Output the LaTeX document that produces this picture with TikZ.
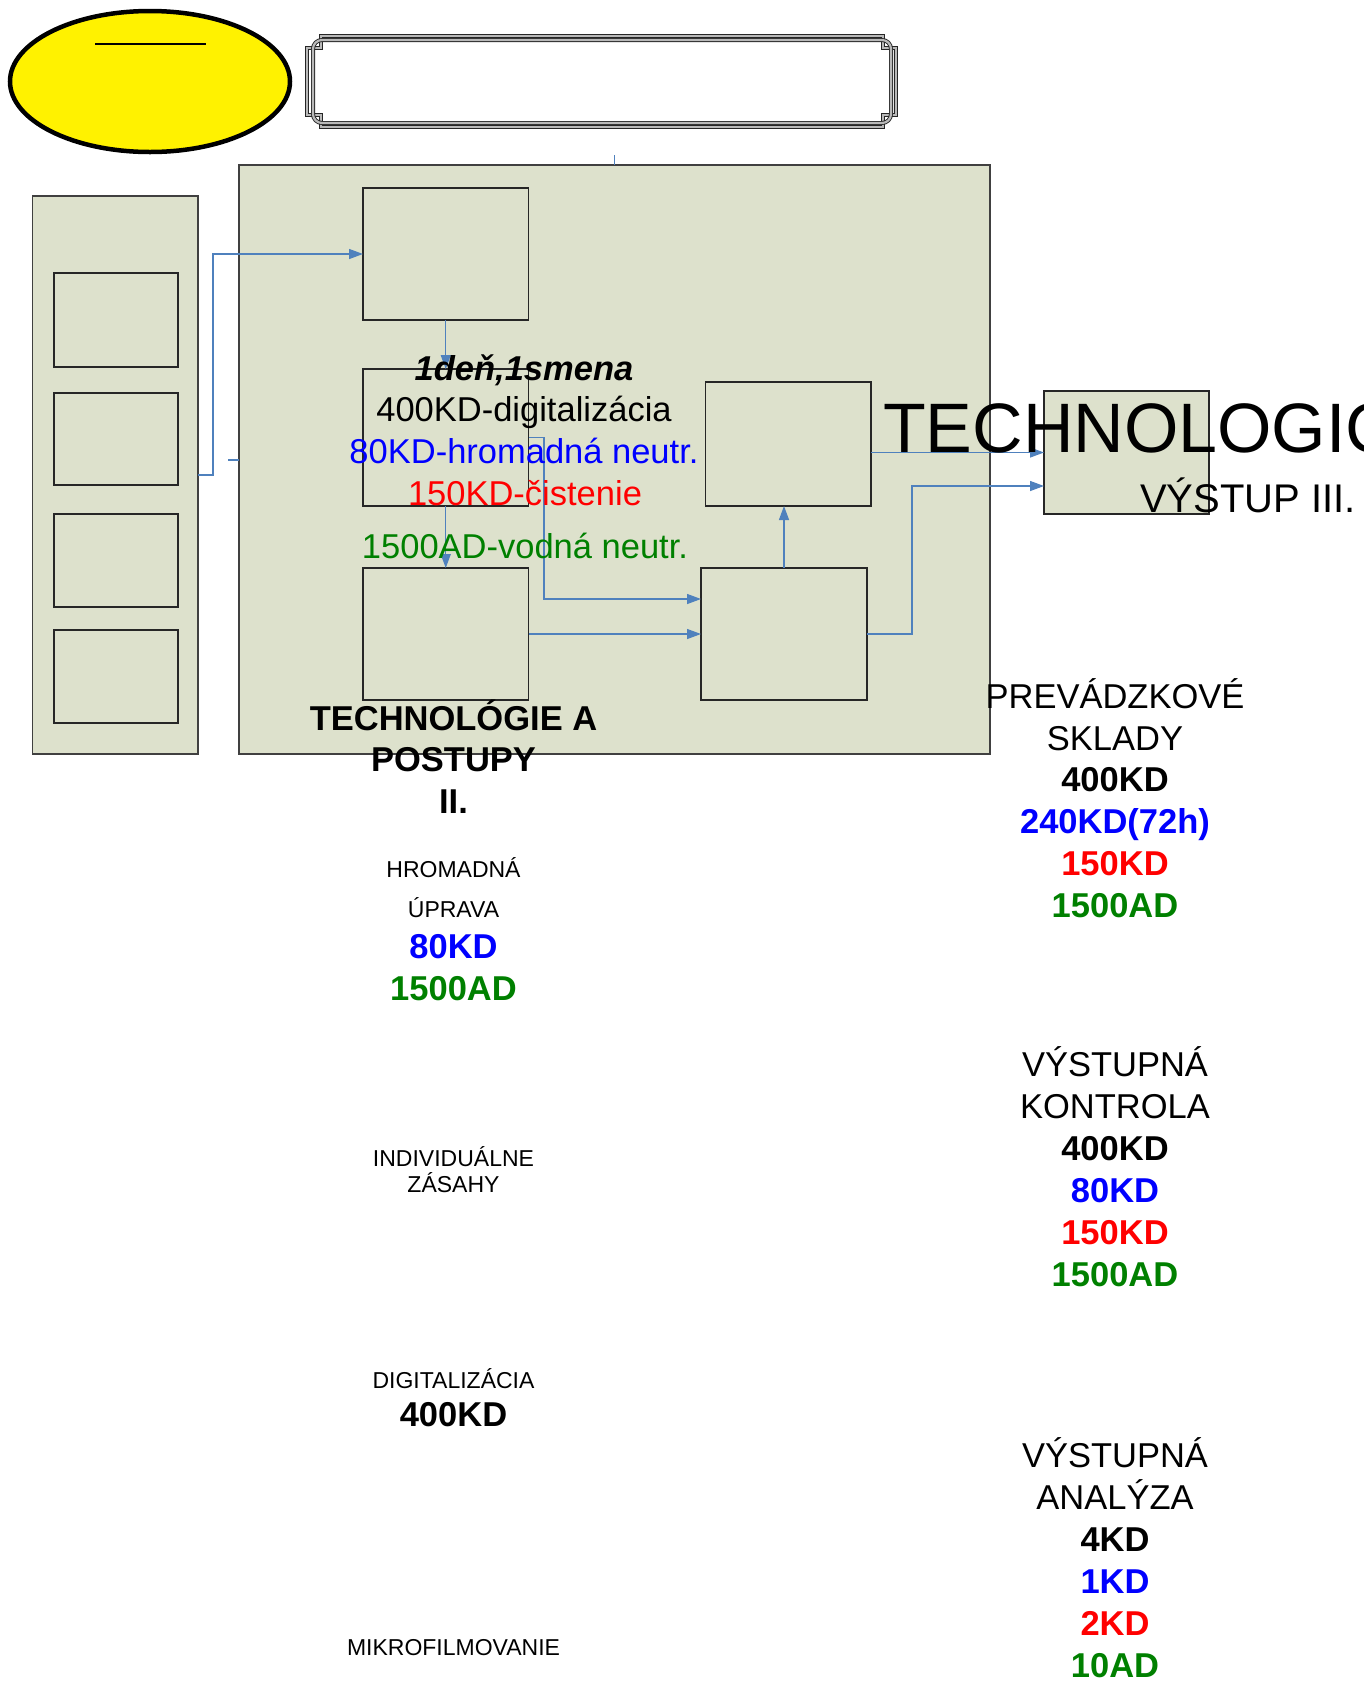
\documentclass[tikz,border=0pt]{standalone}
\usepackage{fontspec}
\setmainfont{Liberation Sans}
\usetikzlibrary{shapes.geometric,arrows.meta}
\definecolor{boxfill}{RGB}{221,225,204}
\definecolor{boxline}{RGB}{64,64,64}
\definecolor{conncol}{RGB}{79,129,189}
\definecolor{tblue}{RGB}{0,0,255}
\definecolor{tred}{RGB}{255,0,0}
\definecolor{tgreen}{RGB}{0,128,0}
\newcommand\fsz[1]{\fontsize{#1}{#1}\selectfont}
\tikzset{
  panel/.style={draw=boxline, fill=boxfill, line width=1.3pt, inner sep=0pt, outer sep=0pt},
  stepbox/.style={draw=black!85, fill=boxfill, line width=1.2pt, inner sep=0pt, outer sep=0pt},
  conn/.style={draw=conncol, line width=1.3pt},
  arr/.style={conn, -{Triangle[length=14pt,width=10pt]}},
  txt/.style={anchor=base, inner sep=0pt, outer sep=0pt},
  framel/.style={draw=black!85, line width=0.9pt, double=gray!55, double distance=2.2pt},
}
\begin{document}
\begin{tikzpicture}[x=1pt,y=-1pt]
\useasboundingbox (0,0) rectangle (1364,1682);

% top decorations
\node[ellipse, draw=black, fill=yellow, line width=4.5pt, minimum width=280pt, minimum height=141pt, inner sep=0pt] (oval) at (150,81.5) {};
\draw[line width=2pt] (95,44) -- (206,44);
\draw[framel] (321,36) -- (883,36) -- (883,48) -- (896,48) -- (896,115) -- (883,115) -- (883,127) -- (321,127) -- (321,115) -- (307,115) -- (307,48) -- (321,48) -- cycle;
\draw[framel, rounded corners=9pt] (313,40) rectangle (891,123);

% panels
\node[panel, minimum width=751pt, minimum height=589pt] (big) at (614.5,459.5) {};
\node[panel, minimum width=165.5pt, minimum height=558pt] (left) at (115.25,475) {};
\node[stepbox, minimum width=124pt, minimum height=94pt] (s1) at (116,320) {};
\node[stepbox, minimum width=124pt, minimum height=92pt] (s2) at (116,439) {};
\node[stepbox, minimum width=124pt, minimum height=93pt] (s3) at (116,560.5) {};
\node[stepbox, minimum width=124pt, minimum height=93pt] (s4) at (116,676.5) {};

\node[stepbox, minimum width=165.5pt, minimum height=132pt] (A) at (445.75,254) {};
\node[stepbox, minimum width=165.5pt, minimum height=137pt] (B) at (445.75,437.5) {};
\node[stepbox, minimum width=165.5pt, minimum height=132pt] (C) at (445.75,634) {};
\node[stepbox, minimum width=166pt, minimum height=132pt] (D) at (784,634) {};
\node[stepbox, minimum width=165.5pt, minimum height=124pt] (E) at (788.25,444) {};
\node[stepbox, minimum width=165pt, minimum height=123pt] (F) at (1126.5,452.5) {};

% connectors
\draw[conn] (big.north) -- ++(0,-10.5);
\coordinate (stub) at (228,460);
\draw[conn] (stub) -- (stub -| big.west);
\draw[arr] (left.east) -- ++(15,0) |- (A.west);
\draw[arr] (A.south) -- (B.north);
\draw[arr] (B.south) -- (C.north);
\draw[arr] (B.east) -- ++(15.5,0) |- ([yshift=35pt]D.west);
\draw[arr] (C.east) -- (D.west);
\draw[arr] (D.north) -- (D.north |- E.south);
\draw[arr] (E.east |- F.west) -- (F.west);
\draw[arr] (D.east) -- ++(45,0) |- ([yshift=-33.5pt]F.west);

% texts inside big panel
\node[txt] (t1) at (524,380) {\fsz{34.5}\bfseries\itshape 1deň,1smena};
\node[txt] (t2) at (524,421.7) {\fsz{34.5}400KD-digitalizácia};
\node[txt, text=tblue] (t3) at (524,463) {\fsz{34.5}80KD-hromadná neutr.};
\node[txt, text=tred] (t4) at (525,505) {\fsz{34.5}150KD-čistenie};
\node[txt, text=tgreen] (t5) at (525,558) {\fsz{34.5}1500AD-vodná neutr.};

\node[txt, anchor=base west] (tv1) at (883,452) {\fsz{70}TECHNOLOGICKÝ};
\node[txt, anchor=base west] (tv2) at (1140,512) {\fsz{40}VÝSTUP III.};

% left column
\node[txt] (l1) at (453.5,730) {\fsz{34.5}\bfseries TECHNOLÓGIE A};
\node[txt] (l2) at (453.5,771) {\fsz{34.5}\bfseries POSTUPY};
\node[txt] (l3) at (453.5,813) {\fsz{34.5}\bfseries II.};
\node[txt] (h1) at (453.5,877) {\fsz{23}HROMADNÁ};
\node[txt] (h2) at (453.5,917) {\fsz{23}ÚPRAVA};
\node[txt, text=tblue] (h3) at (453.5,958) {\fsz{34.5}\bfseries 80KD};
\node[txt, text=tgreen] (h4) at (453.5,1000) {\fsz{34.5}\bfseries 1500AD};
\node[txt] (i1) at (453.5,1166) {\fsz{23}INDIVIDUÁLNE};
\node[txt] (i2) at (453.5,1192) {\fsz{23}ZÁSAHY};
\node[txt] (d1) at (453.5,1388) {\fsz{23}DIGITALIZÁCIA};
\node[txt] (d2) at (453.5,1426) {\fsz{34.5}\bfseries 400KD};
\node[txt] (m1) at (453.5,1655) {\fsz{23}MIKROFILMOVANIE};

% right column
\node[txt] (p1) at (1115,708) {\fsz{34.5}PREVÁDZKOVÉ};
\node[txt] (p2) at (1115,750) {\fsz{34.5}SKLADY};
\node[txt] (p3) at (1115,791) {\fsz{34.5}\bfseries 400KD};
\node[txt, text=tblue] (p4) at (1115,833) {\fsz{34.5}\bfseries 240KD(72h)};
\node[txt, text=tred] (p5) at (1115,875) {\fsz{34.5}\bfseries 150KD};
\node[txt, text=tgreen] (p6) at (1115,917) {\fsz{34.5}\bfseries 1500AD};

\node[txt] (k1) at (1115,1076) {\fsz{34.5}VÝSTUPNÁ};
\node[txt] (k2) at (1115,1118) {\fsz{34.5}KONTROLA};
\node[txt] (k3) at (1115,1160) {\fsz{34.5}\bfseries 400KD};
\node[txt, text=tblue] (k4) at (1115,1202) {\fsz{34.5}\bfseries 80KD};
\node[txt, text=tred] (k5) at (1115,1244) {\fsz{34.5}\bfseries 150KD};
\node[txt, text=tgreen] (k6) at (1115,1286) {\fsz{34.5}\bfseries 1500AD};

\node[txt] (a1) at (1115,1467) {\fsz{34.5}VÝSTUPNÁ};
\node[txt] (a2) at (1115,1509) {\fsz{34.5}ANALÝZA};
\node[txt] (a3) at (1115,1551) {\fsz{34.5}\bfseries 4KD};
\node[txt, text=tblue] (a4) at (1115,1593) {\fsz{34.5}\bfseries 1KD};
\node[txt, text=tred] (a5) at (1115,1635) {\fsz{34.5}\bfseries 2KD};
\node[txt, text=tgreen] (a6) at (1115,1677) {\fsz{34.5}\bfseries 10AD};
\end{tikzpicture}
\end{document}
